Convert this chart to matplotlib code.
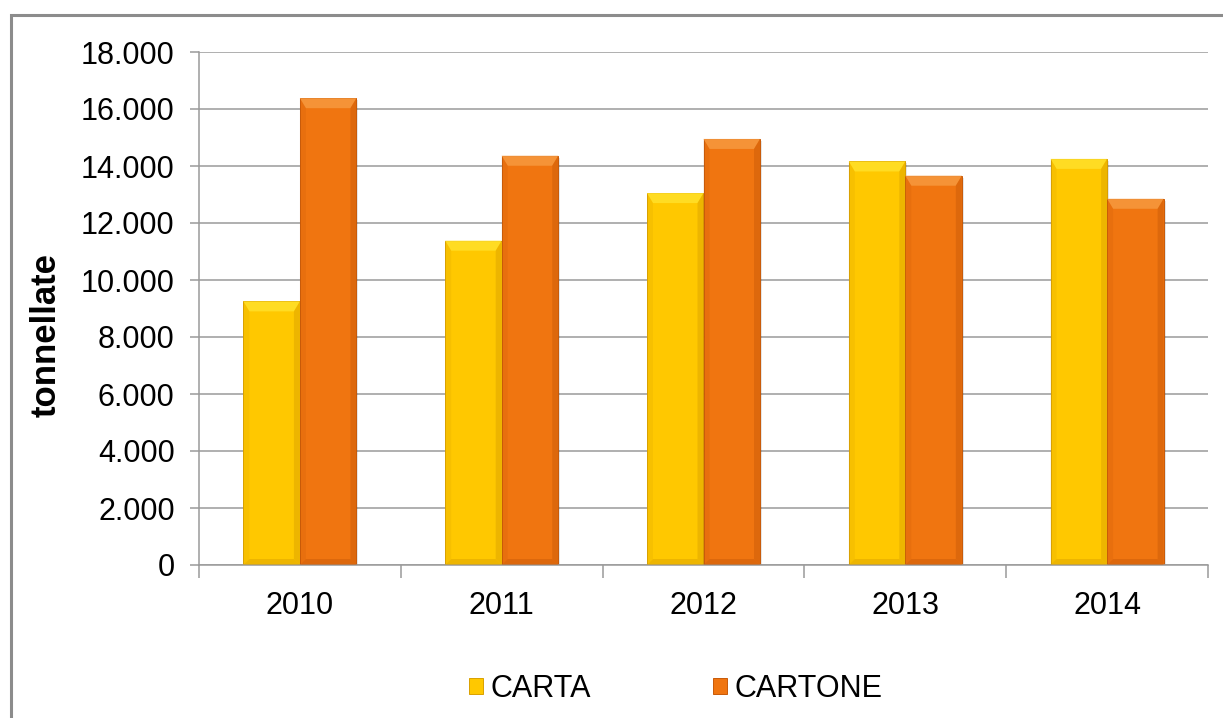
import matplotlib
matplotlib.use('Agg')
import matplotlib.pyplot as plt
from matplotlib.patches import Polygon, Rectangle
from matplotlib.ticker import FuncFormatter, MultipleLocator
import numpy as np

# data (tonnes)
years = ['2010', '2011', '2012', '2013', '2014']
carta = [9250, 11380, 13050, 14160, 14250]
cartone = [16380, 14360, 14950, 13660, 12850]

# colours: body, light bevel, dark bevel
colors = {
    'CARTA': ('#FFC800', '#FFE02A', '#D9A000'),
    'CARTONE': ('#F07510', '#F6993F', '#C85A08'),
}

plt.rcParams['font.family'] = ['Liberation Sans', 'DejaVu Sans']
tick_size = 22

W, H = 1223, 718
fig = plt.figure(figsize=(W / 100, H / 100), dpi=100)
ax = fig.add_axes([199 / W, 1 - 565 / H, (1208 - 199) / W, (565 - 52) / H])

x = np.arange(len(years))
bw = 0.28

# px -> data units for the bevel size
px_x = 1.0 / ((1208 - 199) / len(years))
px_y = 18000 / (565 - 52)


def bevel_bar(ax, rects, light, dark):
    for r in rects:
        x0, x1 = r.get_x(), r.get_x() + r.get_width()
        y1 = r.get_height()
        dx = 6 * px_x
        dt = 10 * px_y
        db = 6 * px_y
        # soft shadow
        ax.add_patch(Rectangle((x0 + 2 * px_x, -2 * px_y), x1 - x0, y1,
                               facecolor='#000000', alpha=0.10, lw=0, zorder=1.5))
        top = Polygon([(x0, y1), (x1, y1), (x1 - dx, y1 - dt), (x0 + dx, y1 - dt)],
                      closed=True, facecolor=light, alpha=0.85, lw=0, zorder=3)
        right = Polygon([(x1, y1), (x1, 0), (x1 - dx, db), (x1 - dx, y1 - dt)],
                        closed=True, facecolor=dark, alpha=0.45, lw=0, zorder=3)
        left = Polygon([(x0, y1), (x0, 0), (x0 + dx, db), (x0 + dx, y1 - dt)],
                       closed=True, facecolor=dark, alpha=0.2, lw=0, zorder=3)
        bottom = Polygon([(x0, 0), (x1, 0), (x1 - dx, db), (x0 + dx, db)],
                         closed=True, facecolor=dark, alpha=0.45, lw=0, zorder=3)
        for p in (top, right, left, bottom):
            ax.add_patch(p)


for vals, name, off in [(carta, 'CARTA', -bw / 2), (cartone, 'CARTONE', bw / 2)]:
    body, light, dark = colors[name]
    rects = ax.bar(x + off, vals, bw, color=body, edgecolor=dark, linewidth=0.7,
                   label=name, zorder=2)
    bevel_bar(ax, rects, light, dark)

ax.set_xlim(-0.5, len(years) - 0.5)
ax.set_ylim(0, 18000)
ax.yaxis.set_major_locator(MultipleLocator(2000))
ax.yaxis.set_major_formatter(FuncFormatter(lambda v, p: f'{int(v):,}'.replace(',', '.')))
ax.grid(axis='y', color='#9a9a9a', linewidth=1.1, zorder=0)
ax.set_axisbelow(True)

ax.set_xticks(x)
ax.set_xticklabels(years)
ax.set_xticks(np.arange(-0.5, len(years)), minor=True)
ax.tick_params(axis='x', which='major', length=0, pad=19, labelsize=tick_size)
ax.tick_params(axis='x', which='minor', length=9, width=1.1, color='#9a9a9a')
ax.tick_params(axis='y', length=6.5, width=1.1, color='#9a9a9a', pad=11,
               labelsize=tick_size)

for s in ('top', 'right'):
    ax.spines[s].set_visible(False)
for s in ('left', 'bottom'):
    ax.spines[s].set_color('#9a9a9a')
    ax.spines[s].set_linewidth(1.1)

ax.set_ylabel('tonnellate', fontsize=25, fontweight='bold')
ax.yaxis.set_label_coords((63 - 199) / (1208 - 199), (565 - 335) / (565 - 52))

ax.legend(loc='center', bbox_to_anchor=(676 / W, 1 - 689 / H),
          bbox_transform=fig.transFigure, ncol=2, frameon=False,
          fontsize=tick_size, handlelength=0.45, handleheight=0.45,
          handletextpad=0.25, columnspacing=4.0)

# outer chart border (clipped at right/bottom like the reference)
fig.patches.append(Rectangle((11 / W, -0.05), 1.2, 1.05 - 15 / H,
                             transform=fig.transFigure, fill=False,
                             edgecolor='#8c8c8c', linewidth=2.2))

fig.savefig('out.png', dpi=100, facecolor='white')
